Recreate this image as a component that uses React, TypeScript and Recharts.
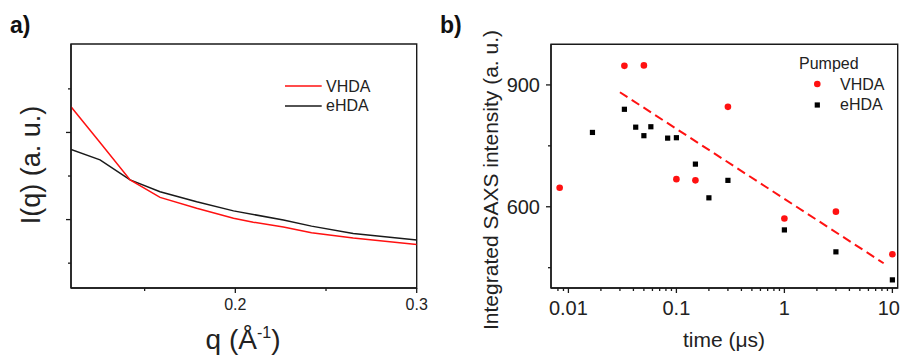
import React from 'react';
import { LineChart, Line, XAxis, YAxis, ReferenceArea, ScatterChart, Scatter, ReferenceLine } from 'recharts';

const FONT = '"Liberation Sans", Arial, Helvetica, sans-serif';
const RED = '#ff1111';
const INK = '#1a1a1a';

// panel a) scattering curves, I(q) in arbitrary units
const qVhda = [0.1094, 0.1254, 0.142, 0.1585, 0.1787, 0.199, 0.2099, 0.2265, 0.242, 0.265, 0.3];
const iVhda = [4.59, 3.77, 2.91, 2.51, 2.26, 2.03, 1.94, 1.83, 1.7, 1.58, 1.43];
const qEhda = [0.1094, 0.1254, 0.142, 0.1585, 0.1787, 0.199, 0.2265, 0.242, 0.265, 0.3];
const iEhda = [3.61, 3.37, 2.91, 2.64, 2.41, 2.2, 1.99, 1.85, 1.68, 1.53];
const qTicks = [0.15, 0.2, 0.25, 0.3];
const qLabels = [0.2, 0.3];
const iTicks = [1, 2, 3, 4, 5];
const iMajor = [2, 4];

// panel b) integrated SAXS intensity vs delay
const tVhda = [0.0083, 0.033, 0.05, 0.1, 0.15, 0.3, 1, 3, 10];
const sVhda = [647, 947, 948, 668, 665, 846, 571, 588, 483];
const tEhda = [0.0167, 0.033, 0.042, 0.05, 0.058, 0.083, 0.1, 0.15, 0.2, 0.3, 1, 3, 10];
const sEhda = [783, 840, 796, 775, 797, 769, 770, 705, 622, 665, 543, 489, 420];
const fitT = [0.03, 8.3];
const fitS = [882, 461];
const tLabels = [0.01, 0.1, 1, 10];
const tTicks = [0.008, 0.009, 0.01, 0.02, 0.03, 0.04, 0.05, 0.06, 0.07, 0.08, 0.09,
  0.1, 0.2, 0.3, 0.4, 0.5, 0.6, 0.7, 0.8, 0.9, 1, 2, 3, 4, 5, 6, 7, 8, 9, 10];
const sTicks = [450, 600, 750, 900];
const sLabels = [600, 900];

const vhdaA = qVhda.map((q, i) => ({ q, v: iVhda[i] }));
const ehdaA = qEhda.map((q, i) => ({ q, v: iEhda[i] }));
const vhdaB = tVhda.map((t, i) => ({ t, s: sVhda[i] }));
const ehdaB = tEhda.map((t, i) => ({ t, s: sEhda[i] }));

const XTick = (props: any) => {
  const { x, y, payload, labels, size, gap, edge } = props;
  const major = labels.includes(payload.value);
  const len = major ? 5 : 3;
  // last label sits on the right edge of the figure, keep it inside
  const atEdge = edge != null && x + size * 0.6 > edge;
  return (
    <g>
      <line x1={x} x2={x} y1={y} y2={y + len} stroke={INK} strokeWidth={1.3} />
      {major && (
        <text x={atEdge ? edge : x} y={y + gap} textAnchor={atEdge ? 'end' : 'middle'} fontSize={size} fontFamily={FONT} fill="#222">
          {String(payload.value)}
        </text>
      )}
    </g>
  );
};

const YTick = (props: any) => {
  const { x, y, payload, labels, majors, size } = props;
  const major = (majors || labels).includes(payload.value);
  const len = major ? 5 : 3;
  return (
    <g>
      <line x1={x - len} x2={x} y1={y} y2={y} stroke={INK} strokeWidth={1.3} />
      {labels.includes(payload.value) && (
        <text x={x - 11} y={y} dy="0.36em" textAnchor="end" fontSize={size} fontFamily={FONT} fill="#222">
          {String(payload.value)}
        </text>
      )}
    </g>
  );
};

const axisLine = { stroke: INK, strokeWidth: 1.4 };

function PanelA() {
  return (
    <LineChart width={440} height={356} margin={{ top: 44, right: 23.3, bottom: 67, left: 70 }}>
      <XAxis
        type="number" dataKey="q" domain={[0.1094, 0.3]} allowDataOverflow interval={0}
        ticks={qTicks} height={1} tickSize={0} tickMargin={0} tickLine={false} axisLine={axisLine}
        tick={(p: any) => <XTick {...p} labels={qLabels} size={16} gap={22} />}
      />
      <YAxis
        type="number" domain={[0.43, 6.03]} allowDataOverflow interval={0}
        ticks={iTicks} width={1} tickSize={0} tickMargin={0} tickLine={false} axisLine={axisLine}
        tick={(p: any) => <YTick {...p} labels={[]} majors={iMajor} size={16} />}
      />
      <ReferenceArea x1={0.1094} x2={0.3} y1={0.43} y2={6.03} fill="none" stroke={INK} strokeWidth={1.4} strokeOpacity={1} />
      <Line data={ehdaA} dataKey="v" type="linear" stroke={INK} strokeWidth={1.5} dot={false} isAnimationActive={false} />
      <Line data={vhdaA} dataKey="v" type="linear" stroke={RED} strokeWidth={1.5} dot={false} isAnimationActive={false} />
    </LineChart>
  );
}

const RedDot = (p: any) => <circle cx={p.cx} cy={p.cy} r={3.3} fill={RED} />;
const BlackSq = (p: any) => <rect x={p.cx - 2.6} y={p.cy - 2.6} width={5.2} height={5.2} fill="#000" />;

function PanelB() {
  return (
    <ScatterChart width={451} height={356} margin={{ top: 44.3, right: 3.3, bottom: 67, left: 100 }}>
      <XAxis
        type="number" dataKey="t" scale="log" domain={[0.0069, 11.2]} allowDataOverflow interval={0}
        ticks={tTicks} height={1} tickSize={0} tickMargin={0} tickLine={false} axisLine={axisLine}
        tick={(p: any) => <XTick {...p} labels={tLabels} size={20} gap={27} edge={450} />}
      />
      <YAxis
        type="number" dataKey="s" domain={[400, 1000]} allowDataOverflow interval={0}
        ticks={sTicks} width={1} tickSize={0} tickMargin={0} tickLine={false} axisLine={axisLine}
        tick={(p: any) => <YTick {...p} labels={sLabels} size={20} />}
      />
      <ReferenceArea x1={0.0069} x2={11.2} y1={400} y2={1000} fill="none" stroke={INK} strokeWidth={1.4} strokeOpacity={1} />
      <ReferenceLine
        segment={[{ x: fitT[0], y: fitS[0] }, { x: fitT[1], y: fitS[1] }]}
        stroke={RED} strokeWidth={2} strokeDasharray="9 5" ifOverflow="visible"
      />
      <Scatter data={vhdaB} shape={<RedDot />} isAnimationActive={false} />
      <Scatter data={ehdaB} shape={<BlackSq />} isAnimationActive={false} />
    </ScatterChart>
  );
}

export default function App() {
  return (
    <div style={{ position: 'absolute', left: 0, top: 0, width: 901, height: 356, background: '#fff', overflow: 'hidden', fontFamily: FONT }}>
      <div style={{ position: 'absolute', left: 0, top: 0 }}><PanelA /></div>
      <div style={{ position: 'absolute', left: 450, top: 0 }}><PanelB /></div>
      <svg width={901} height={356} style={{ position: 'absolute', left: 0, top: 0, pointerEvents: 'none' }} fontFamily={FONT}>
        <text x={10} y={33} fontSize={23} fontWeight="bold" fill="#111">a)</text>
        <text x={440} y={33} fontSize={23} fontWeight="bold" fill="#111">b)</text>

        <text transform="translate(40,165) rotate(-90)" textAnchor="middle" fontSize={27} fill="#222">I(q) (a. u.)</text>
        <text x={243} y={349} textAnchor="middle" fontSize={28} fill="#222">
          q (Å<tspan dy={-11} fontSize={16}>-1</tspan><tspan dy={11}>)</tspan>
        </text>

        <text transform="translate(498,180) rotate(-90)" textAnchor="middle" fontSize={21} fill="#222">Integrated SAXS intensity (a. u.)</text>
        <text x={724} y={347} textAnchor="middle" fontSize={21} fill="#222">time (μs)</text>

        <line x1={285} x2={321.7} y1={86} y2={86} stroke={RED} strokeWidth={1.5} />
        <text x={326} y={91.5} fontSize={16} fill="#222">VHDA</text>
        <line x1={285} x2={321.7} y1={106} y2={106} stroke={INK} strokeWidth={1.5} />
        <text x={326} y={111} fontSize={16} fill="#222">eHDA</text>

        <text x={799} y={69} fontSize={16} fill="#222">Pumped</text>
        <circle cx={817.3} cy={84} r={3.3} fill={RED} />
        <text x={840} y={90} fontSize={16} fill="#222">VHDA</text>
        <rect x={814.7} y={102.4} width={5.2} height={5.2} fill="#000" />
        <text x={840} y={110} fontSize={16} fill="#222">eHDA</text>
      </svg>
    </div>
  );
}
